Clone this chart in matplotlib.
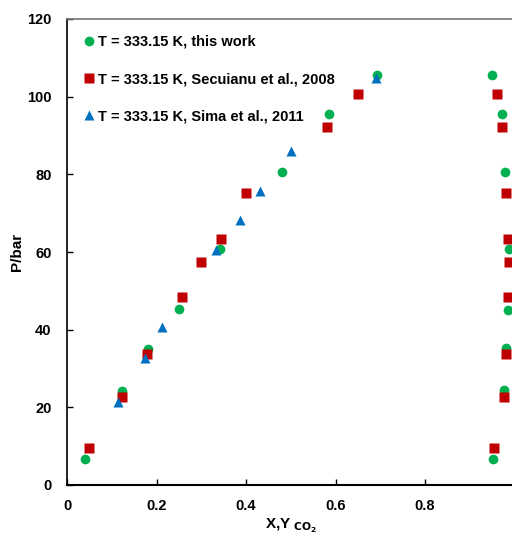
import matplotlib
matplotlib.use("Agg")
import matplotlib.pyplot as plt

plt.rcParams['font.family'] = ['Liberation Sans', 'DejaVu Sans']
plt.rcParams['font.weight'] = 'bold'

# This work, T = 333.15 K (liquid and vapour branches)
work_x = [0.040, 0.124, 0.180, 0.250, 0.342, 0.481, 0.586, 0.692,
          0.949, 0.971, 0.978, 0.987, 0.985, 0.980, 0.976, 0.951]
work_p = [6.7, 24.3, 35.1, 45.2, 60.9, 80.7, 95.5, 105.7,
          105.5, 95.5, 80.7, 60.8, 45.1, 35.4, 24.5, 6.7]

# Secuianu et al., 2008
secu_x = [0.049, 0.122, 0.179, 0.257, 0.299, 0.344, 0.401, 0.581, 0.650,
          0.962, 0.972, 0.982, 0.986, 0.988, 0.985, 0.980, 0.976, 0.954]
secu_p = [9.4, 22.6, 33.7, 48.5, 57.4, 63.4, 75.1, 92.3, 100.8,
          100.8, 92.3, 75.2, 63.4, 57.4, 48.5, 33.7, 22.6, 9.4]

# Sima et al., 2011
sima_x = [0.113, 0.175, 0.213, 0.332, 0.387, 0.431, 0.501, 0.691]
sima_p = [21.5, 32.7, 40.8, 60.5, 68.2, 75.8, 86.0, 104.9]

x_ticks = [0, 0.2, 0.4, 0.6, 0.8]
x_tick_labels = ['0', '0.2', '0.4', '0.6', '0.8']
y_ticks = [0, 20, 40, 60, 80, 100, 120]

fig = plt.figure(figsize=(5.12, 5.36), dpi=100)
ax = fig.add_axes([67/512, 1 - 485/536, 447.5/512, (485 - 19)/536])

ax.plot(work_x, work_p, 'o', color='#00B050', ms=7, mec='none',
        label='T = 333.15 K, this work')
ax.plot(secu_x, secu_p, 's', color='#C00000', ms=7, mec='none',
        label='T = 333.15 K, Secuianu et al., 2008')
ax.plot(sima_x, sima_p, '^', color='#0070C0', ms=7.5, mec='none',
        label='T = 333.15 K, Sima et al., 2011')

ax.set_xlim(0, 1)
ax.set_ylim(0, 120)
ax.set_xticks(x_ticks)
ax.set_xticklabels(x_tick_labels)
ax.set_yticks(y_ticks)
ax.tick_params(direction='in', length=4, width=1.0, labelsize=10.5)
ax.tick_params(axis='y', pad=11)
ax.tick_params(axis='x', pad=10)
for lab in ax.get_xticklabels() + ax.get_yticklabels():
    lab.set_fontweight('bold')

ax.spines['left'].set_linewidth(1.2)
ax.spines['bottom'].set_linewidth(1.5)
ax.spines['top'].set_color('#777777')
ax.spines['top'].set_linewidth(1.2)
ax.spines['right'].set_visible(False)

ax.set_ylabel('P/bar', fontsize=11, fontweight='bold')
ax.yaxis.set_label_coords(-0.097, 0.5)
ax.set_xlabel(r'X,Y$_{\ \mathbf{CO_2}}$', fontsize=11, fontweight='bold', labelpad=2.5)

leg = ax.legend(loc='upper left', bbox_to_anchor=(0.02, 0.985), frameon=False,
                prop={'size': 10.5, 'weight': 'bold'}, labelspacing=1.6,
                handlelength=0.6, handletextpad=0.3, borderaxespad=0.2)

fig.savefig('out.png', dpi=100)
